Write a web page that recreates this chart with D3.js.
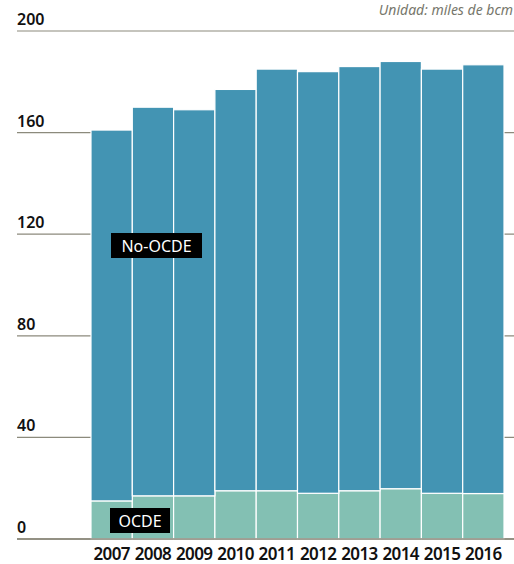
<!DOCTYPE html>
<html>
<head>
<meta charset="utf-8">
<script src="https://cdn.jsdelivr.net/npm/d3@7"></script>
<style>
  body { margin: 0; background: #fff; }
  svg text { font-family: "Noto Sans", "Open Sans", sans-serif; }
</style>
</head>
<body>
<svg id="chart" width="514" height="564"></svg>
<script>
// data (miles de bcm)
var years = ["2007", "2008", "2009", "2010", "2011", "2012", "2013", "2014", "2015", "2016"];
var ocde = [15, 17, 17, 19, 19, 18, 19, 19.8, 18, 17.9];
var total = [161, 170, 169, 177, 185, 184, 186, 188, 185, 186.7];
var yTicks = [0, 40, 80, 120, 160, 200];

var svg = d3.select("#chart");

var x = d3.scaleBand()
  .domain(years)
  .range([91, 504])
  .padding(0);

var y = d3.scaleLinear()
  .domain([0, 200])
  .range([539, 31]);

// grid lines + tick labels
var grid = svg.append("g");
grid.selectAll("line")
  .data(yTicks)
  .enter()
  .append("line")
  .attr("x1", 17)
  .attr("x2", 514)
  .attr("y1", function(d) { return y(d); })
  .attr("y2", function(d) { return y(d); })
  .attr("stroke", "#8c8a7c")
  .attr("stroke-width", function(d) { return d == 0 ? 1.5 : 1.2; });

grid.selectAll("text")
  .data(yTicks)
  .enter()
  .append("text")
  .attr("x", 17)
  .attr("y", function(d) { return y(d) - 6; })
  .attr("font-size", 16)
  .attr("font-weight", 600)
  .attr("fill", "#111")
  .text(function(d) { return d; });

// stacked bars
var rows = years.map(function(yr, i) {
  return { year: yr, ocde: ocde[i], noocde: total[i] - ocde[i] };
});
var stack = d3.stack().keys(["ocde", "noocde"])(rows);
var colors = { ocde: "#83c0b3", noocde: "#4394b3" };

svg.append("g")
  .selectAll("g")
  .data(stack)
  .enter()
  .append("g")
  .attr("fill", function(s) { return colors[s.key]; })
  .selectAll("rect")
  .data(function(s) { return s; })
  .enter()
  .append("rect")
  .attr("x", function(d) { return x(d.data.year); })
  .attr("width", x.bandwidth())
  .attr("y", function(d) { return y(d[1]); })
  .attr("height", function(d) { return y(d[0]) - y(d[1]); })
  .attr("stroke", "#fff")
  .attr("stroke-width", 1.2);

// baseline on top
svg.append("line")
  .attr("x1", 17).attr("x2", 514)
  .attr("y1", y(0)).attr("y2", y(0))
  .attr("stroke", "#8c8a7c")
  .attr("stroke-width", 1.5);

// x axis labels
var xAxis = d3.axisBottom(x).tickSize(0).tickPadding(9);
var xg = svg.append("g")
  .attr("transform", "translate(0," + y(0) + ")")
  .call(xAxis);
xg.select(".domain").remove();
xg.selectAll("text")
  .attr("font-size", 17)
  .attr("font-weight", 600)
  .attr("fill", "#111")
  .attr("font-family", "Noto Sans")
  .style("letter-spacing", "-0.6px");

// series labels
function tag(txt, bx, by, bw, bh) {
  svg.append("rect")
    .attr("x", bx).attr("y", by)
    .attr("width", bw).attr("height", bh)
    .attr("fill", "#000");
  svg.append("text")
    .attr("x", bx + bw / 2)
    .attr("y", by + bh / 2 + 6)
    .attr("text-anchor", "middle")
    .attr("font-size", 16)
    .attr("fill", "#fff")
    .text(txt);
}
tag("No-OCDE", 111, 233, 91, 25);
tag("OCDE", 110, 508, 60, 25);

// unit note
svg.append("text")
  .attr("x", 513)
  .attr("y", 15)
  .attr("text-anchor", "end")
  .attr("font-size", 14)
  .attr("font-style", "italic")
  .attr("fill", "#77776c")
  .text("Unidad: miles de bcm");
</script>
</body>
</html>
